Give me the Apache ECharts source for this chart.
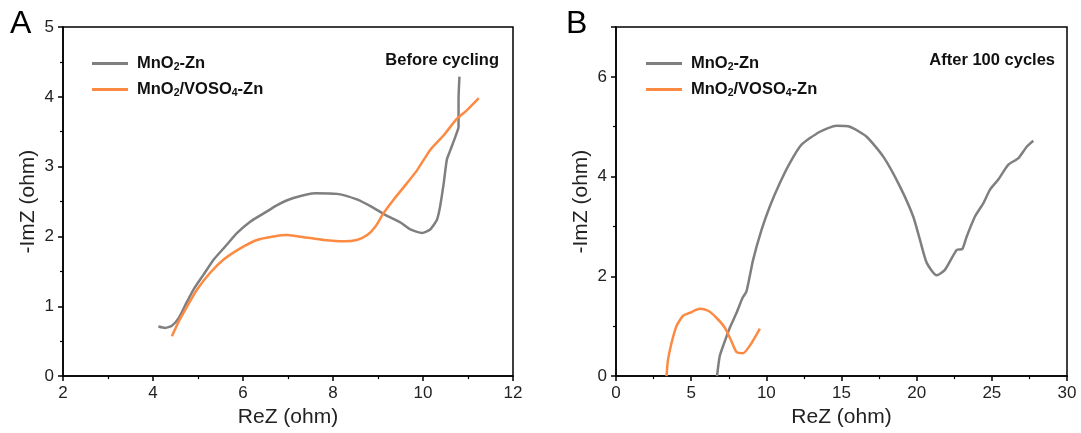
<!DOCTYPE html>
<html>
<head>
<meta charset="utf-8">
<script src="https://cdn.jsdelivr.net/npm/echarts@6/dist/echarts.min.js"></script>
<style>
  html, body { margin: 0; padding: 0; background: #fff; }
  #main { width: 1081px; height: 433px; }
</style>
</head>
<body>
<div id="main"></div>
<script>
// 数据：A 图（循环前）
var seriesNames = ['MnO2-Zn', 'MnO2/VOSO4-Zn'];

var aGrayX = [4.12, 4.27, 4.42, 4.57, 4.72, 4.9, 5.12, 5.35, 5.61, 5.87, 6.16, 6.46, 6.76, 7.12, 7.61, 8.09, 8.53, 8.9, 9.16, 9.5, 9.72, 9.98, 10.16, 10.31, 10.38, 10.46, 10.53, 10.61, 10.72, 10.79, 10.79, 10.81];
var aGrayY = [0.71, 0.69, 0.72, 0.83, 1.02, 1.24, 1.45, 1.67, 1.86, 2.05, 2.21, 2.33, 2.45, 2.55, 2.62, 2.61, 2.53, 2.41, 2.31, 2.2, 2.1, 2.05, 2.1, 2.24, 2.43, 2.76, 3.1, 3.24, 3.43, 3.57, 3.96, 4.29];

var aOrangeX = [4.42, 4.57, 4.76, 4.98, 5.27, 5.57, 5.94, 6.31, 6.68, 6.98, 7.35, 7.79, 8.24, 8.53, 8.76, 8.94, 9.12, 9.35, 9.64, 9.87, 10.16, 10.46, 10.76, 10.98, 11.24];
var aOrangeY = [0.57, 0.78, 1.0, 1.24, 1.48, 1.67, 1.83, 1.95, 2.0, 2.02, 1.99, 1.95, 1.93, 1.95, 2.02, 2.14, 2.33, 2.53, 2.76, 2.95, 3.24, 3.45, 3.69, 3.81, 3.98];

// 数据：B 图（100 次循环后）
var bGrayX = [6.72, 6.9, 7.24, 7.57, 8.02, 8.42, 8.68, 9.12, 9.68, 10.23, 10.9, 11.56, 12.34, 13.56, 14.67, 15.56, 16.67, 17.78, 18.89, 19.77, 20.22, 20.67, 21.33, 21.88, 22.66, 23.04, 23.33, 23.88, 24.44, 24.88, 25.43, 26.1, 26.77, 27.32, 27.76];
var bGrayY = [0, 0.4, 0.7, 0.97, 1.27, 1.57, 1.7, 2.33, 2.93, 3.4, 3.87, 4.27, 4.64, 4.9, 5.02, 5.0, 4.8, 4.4, 3.8, 3.2, 2.73, 2.27, 2.02, 2.13, 2.53, 2.55, 2.8, 3.2, 3.47, 3.74, 3.94, 4.24, 4.37, 4.6, 4.72];

var bOrangeX = [3.36, 3.46, 3.69, 4.02, 4.46, 4.91, 5.57, 6.13, 6.68, 7.24, 7.68, 8.02, 8.46, 9.01, 9.57];
var bOrangeY = [0, 0.33, 0.66, 1.0, 1.21, 1.27, 1.35, 1.31, 1.17, 0.97, 0.7, 0.48, 0.46, 0.66, 0.95];

var GRAY = '#7f7f7f';
var ORANGE = '#fd8a42';
var FONT = 'Liberation Sans';

function pairs(xs, ys) {
    var out = [];
    for (var i = 0; i < xs.length; i++) {
        out.push([xs[i], ys[i]]);
    }
    return out;
}

// 坐标轴公共样式
function axisBase(extra) {
    var ax = {
        type: 'value',
        nameLocation: 'middle',
        nameTextStyle: { fontFamily: FONT, fontSize: 21, color: '#222' },
        axisLine: { show: true, lineStyle: { color: '#000', width: 1.5 } },
        axisTick: { show: true, inside: false, length: 5, lineStyle: { color: '#000', width: 1.5 } },
        minorTick: { show: true, splitNumber: 2, length: 3, lineStyle: { color: '#000', width: 1.2 } },
        axisLabel: { fontFamily: FONT, fontSize: 17, color: '#222', margin: 9 },
        splitLine: { show: false }
    };
    for (var k in extra) {
        ax[k] = extra[k];
    }
    return ax;
}

function legendFmt(name) {
    return name.replace(/(\d)/g, '{s|$1}');
}

function legendCfg(left) {
    return {
        left: left,
        top: 54,
        orient: 'vertical',
        padding: 0,
        itemGap: 7,
        itemWidth: 36,
        itemHeight: 3,
        icon: 'rect',
        selectedMode: false,
        data: seriesNames,
        formatter: legendFmt,
        textStyle: {
            fontFamily: FONT,
            fontSize: 16.5,
            fontWeight: 'bold',
            color: '#111',
            lineHeight: 19,
            padding: [0, 0, 0, 4],
            rich: {
                s: { fontFamily: FONT, fontSize: 10.5, fontWeight: 'bold', color: '#111', lineHeight: 10, verticalAlign: 'bottom' }
            }
        }
    };
}

var myChart = echarts.init(document.getElementById('main'));

var option = {
    animation: false,
    backgroundColor: '#fff',
    title: [
        { text: 'A', left: 10, top: 8, padding: 0, textStyle: { fontFamily: FONT, fontSize: 32, fontWeight: 'normal', color: '#000' } },
        { text: 'B', left: 566, top: 8, padding: 0, textStyle: { fontFamily: FONT, fontSize: 32, fontWeight: 'normal', color: '#000' } },
        { text: 'Before cycling', right: 582, top: 52, padding: 0, textStyle: { fontFamily: FONT, fontSize: 16.5, fontWeight: 'bold', color: '#111' } },
        { text: 'After 100 cycles', right: 26, top: 52, padding: 0, textStyle: { fontFamily: FONT, fontSize: 16.5, fontWeight: 'bold', color: '#111' } }
    ],
    legend: [legendCfg(92), legendCfg(646)],
    grid: [
        { left: 63, top: 27, width: 450, height: 349.5, show: true, borderColor: '#000', borderWidth: 1.5, backgroundColor: 'transparent' },
        { left: 616, top: 27, width: 451, height: 349.5, show: true, borderColor: '#000', borderWidth: 1.5, backgroundColor: 'transparent' }
    ],
    xAxis: [
        axisBase({ gridIndex: 0, min: 2, max: 12, interval: 2, name: 'ReZ (ohm)', nameGap: 30 }),
        axisBase({ gridIndex: 1, min: 0, max: 30, interval: 5, name: 'ReZ (ohm)', nameGap: 30 })
    ],
    yAxis: [
        axisBase({ gridIndex: 0, min: 0, max: 5, interval: 1, name: '-ImZ (ohm)', nameGap: 24 }),
        axisBase({ gridIndex: 1, min: 0, max: 7, interval: 2, name: '-ImZ (ohm)', nameGap: 24 })
    ],
    series: [
        { name: seriesNames[0], type: 'line', xAxisIndex: 0, yAxisIndex: 0, data: pairs(aGrayX, aGrayY), smooth: 0.2, symbol: 'none', color: GRAY, lineStyle: { width: 2.5 } },
        { name: seriesNames[1], type: 'line', xAxisIndex: 0, yAxisIndex: 0, data: pairs(aOrangeX, aOrangeY), smooth: 0.2, symbol: 'none', color: ORANGE, lineStyle: { width: 2.5 } },
        { name: seriesNames[0], type: 'line', xAxisIndex: 1, yAxisIndex: 1, data: pairs(bGrayX, bGrayY), smooth: 0.2, symbol: 'none', color: GRAY, lineStyle: { width: 2.5 } },
        { name: seriesNames[1], type: 'line', xAxisIndex: 1, yAxisIndex: 1, data: pairs(bOrangeX, bOrangeY), smooth: 0.2, symbol: 'none', color: ORANGE, lineStyle: { width: 2.5 } }
    ]
};

// B 图纵轴只显示 0/2/4/6
option.yAxis[1].axisLabel.showMaxLabel = false;

myChart.setOption(option, true);
</script>
</body>
</html>
